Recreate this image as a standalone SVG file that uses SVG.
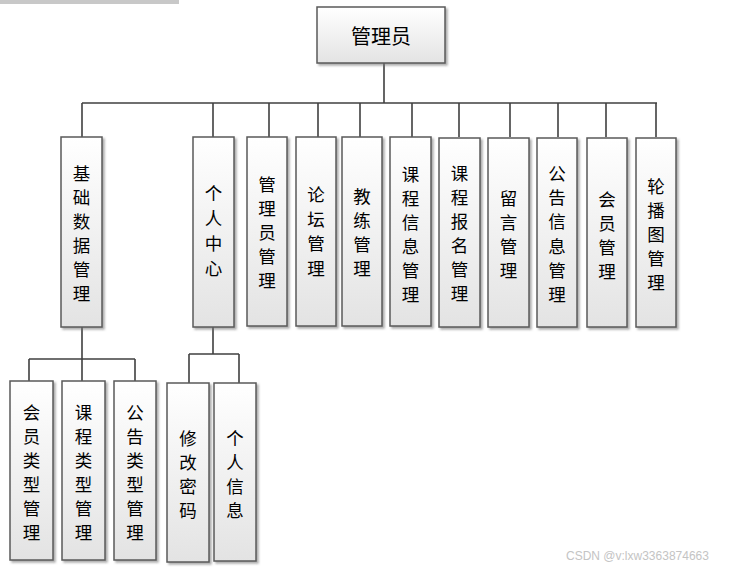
<svg xmlns="http://www.w3.org/2000/svg" width="730" height="569" viewBox="0 0 730 569">
<defs>
<linearGradient id="g" x1="0" y1="0" x2="0" y2="1">
<stop offset="0" stop-color="#ffffff"/>
<stop offset="1" stop-color="#e3e3e3"/>
</linearGradient>
<filter id="sh" x="-20%" y="-10%" width="140%" height="120%">
<feDropShadow dx="2" dy="2" stdDeviation="1" flood-color="#777" flood-opacity="0.6"/>
</filter>
</defs>
<style>
.box{fill:url(#g);stroke:#5a5a5a;stroke-width:1.5;filter:url(#sh)}
.t{font-family:"Noto Sans CJK SC","Noto Sans",sans-serif;font-size:17.5px;fill:#000;text-anchor:middle;dominant-baseline:central}
.c{fill:none;stroke:#404040;stroke-width:1.6}
.wm{font-family:"Liberation Sans",sans-serif;font-size:12px;fill:#c4c4c4}
</style>
<rect x="0" y="0" width="179" height="4" fill="#c8c8c8"/>
<g id="connectors">
<path class="c" d="M384 63V103M82 103H657M82 103V137M213 103V137M269 103V137M318 103V137M360 103V137M412 103V137M459 103V137M510 103V137M558 103V137M606 103V137M656 103V137"/>
<path class="c" d="M82 327V359M29 359H135M29 359V381M82 359V381M135 359V381"/>
<path class="c" d="M213 327V354M189 354H239M189 354V383M239 354V383"/>
</g>
<g id="n-admin"><rect class="box" x="317" y="7" width="128" height="56"/><text class="t" x="381" y="35" style="font-size:20px">管理员</text></g>
<g id="n-jichu"><rect class="box" x="61" y="137" width="41" height="190"/><text class="t"><tspan x="81.5" y="172">基</tspan><tspan x="81.5" y="196">础</tspan><tspan x="81.5" y="220">数</tspan><tspan x="81.5" y="244">据</tspan><tspan x="81.5" y="268">管</tspan><tspan x="81.5" y="292">理</tspan></text></g>
<g id="n-geren"><rect class="box" x="193" y="137" width="41" height="190"/><text class="t"><tspan x="213.5" y="192">个</tspan><tspan x="213.5" y="217">人</tspan><tspan x="213.5" y="242">中</tspan><tspan x="213.5" y="267">心</tspan></text></g>
<g id="n-glygl"><rect class="box" x="247" y="137" width="40" height="189"/><text class="t"><tspan x="267" y="183">管</tspan><tspan x="267" y="207">理</tspan><tspan x="267" y="231">员</tspan><tspan x="267" y="255">管</tspan><tspan x="267" y="279">理</tspan></text></g>
<g id="n-luntan"><rect class="box" x="296" y="137" width="40" height="189"/><text class="t"><tspan x="316" y="193">论</tspan><tspan x="316" y="218">坛</tspan><tspan x="316" y="242">管</tspan><tspan x="316" y="267">理</tspan></text></g>
<g id="n-jiaolian"><rect class="box" x="342" y="137" width="40" height="189"/><text class="t"><tspan x="362" y="195">教</tspan><tspan x="362" y="219">练</tspan><tspan x="362" y="243">管</tspan><tspan x="362" y="267">理</tspan></text></g>
<g id="n-kcxx"><rect class="box" x="390" y="137" width="41" height="189"/><text class="t"><tspan x="410.5" y="173">课</tspan><tspan x="410.5" y="197">程</tspan><tspan x="410.5" y="221">信</tspan><tspan x="410.5" y="245">息</tspan><tspan x="410.5" y="269">管</tspan><tspan x="410.5" y="293">理</tspan></text></g>
<g id="n-kcbm"><rect class="box" x="439" y="138" width="41" height="189"/><text class="t"><tspan x="459.5" y="172">课</tspan><tspan x="459.5" y="196">程</tspan><tspan x="459.5" y="220">报</tspan><tspan x="459.5" y="244">名</tspan><tspan x="459.5" y="268">管</tspan><tspan x="459.5" y="292">理</tspan></text></g>
<g id="n-liuyan"><rect class="box" x="488" y="138" width="41" height="189"/><text class="t"><tspan x="508.5" y="197">留</tspan><tspan x="508.5" y="221">言</tspan><tspan x="508.5" y="245">管</tspan><tspan x="508.5" y="269">理</tspan></text></g>
<g id="n-ggxx"><rect class="box" x="537" y="138" width="40" height="189"/><text class="t"><tspan x="557" y="172">公</tspan><tspan x="557" y="196">告</tspan><tspan x="557" y="220">信</tspan><tspan x="557" y="245">息</tspan><tspan x="557" y="269">管</tspan><tspan x="557" y="293">理</tspan></text></g>
<g id="n-huiyuan"><rect class="box" x="587" y="138" width="40" height="189"/><text class="t"><tspan x="607" y="198">会</tspan><tspan x="607" y="222">员</tspan><tspan x="607" y="246">管</tspan><tspan x="607" y="270">理</tspan></text></g>
<g id="n-lunbo"><rect class="box" x="636" y="138" width="40" height="189"/><text class="t"><tspan x="656" y="185">轮</tspan><tspan x="656" y="209">播</tspan><tspan x="656" y="233">图</tspan><tspan x="656" y="257">管</tspan><tspan x="656" y="281">理</tspan></text></g>
<g id="n-hylx"><rect class="box" x="10" y="381" width="43" height="179"/><text class="t"><tspan x="31.5" y="411">会</tspan><tspan x="31.5" y="435">员</tspan><tspan x="31.5" y="459">类</tspan><tspan x="31.5" y="483">型</tspan><tspan x="31.5" y="507">管</tspan><tspan x="31.5" y="531">理</tspan></text></g>
<g id="n-kclx"><rect class="box" x="62" y="381" width="43" height="179"/><text class="t"><tspan x="83.5" y="411">课</tspan><tspan x="83.5" y="435">程</tspan><tspan x="83.5" y="459">类</tspan><tspan x="83.5" y="483">型</tspan><tspan x="83.5" y="507">管</tspan><tspan x="83.5" y="531">理</tspan></text></g>
<g id="n-gglx"><rect class="box" x="114" y="381" width="42" height="179"/><text class="t"><tspan x="135" y="411">公</tspan><tspan x="135" y="435">告</tspan><tspan x="135" y="459">类</tspan><tspan x="135" y="483">型</tspan><tspan x="135" y="507">管</tspan><tspan x="135" y="531">理</tspan></text></g>
<g id="n-xgmm"><rect class="box" x="167" y="383" width="42" height="179"/><text class="t"><tspan x="188" y="437">修</tspan><tspan x="188" y="461">改</tspan><tspan x="188" y="485">密</tspan><tspan x="188" y="509">码</tspan></text></g>
<g id="n-grxx"><rect class="box" x="214" y="383" width="42" height="178"/><text class="t"><tspan x="235" y="437">个</tspan><tspan x="235" y="461">人</tspan><tspan x="235" y="485">信</tspan><tspan x="235" y="509">息</tspan></text></g>
<text class="wm" x="566" y="560">CSDN @v:lxw3363874663</text>
</svg>
